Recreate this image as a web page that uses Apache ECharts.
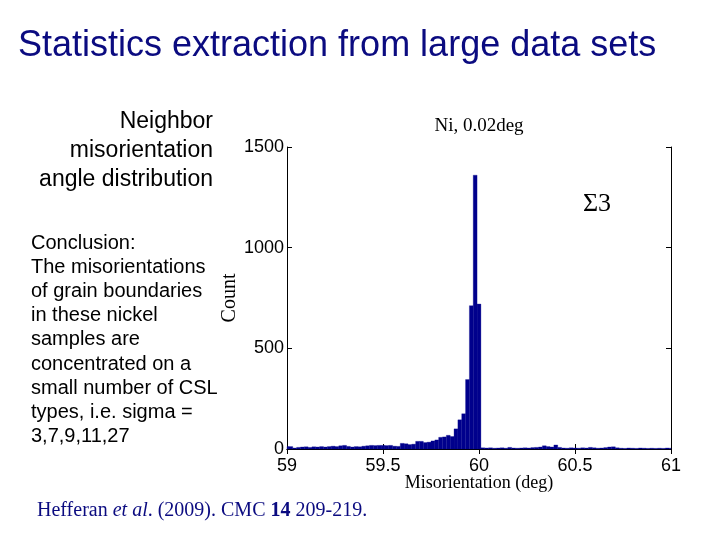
<!DOCTYPE html>
<html>
<head>
<meta charset="utf-8">
<script src="https://cdn.jsdelivr.net/npm/echarts@6/dist/echarts.min.js"></script>
<style>html,body{margin:0;padding:0;background:#fff;}#chart{width:720px;height:540px;}</style>
</head>
<body>
<div id="chart"></div>
<script>
// Bin centres (deg), 0.02 deg bins
const binCenters = [
  59.00,59.02,59.04,59.06,59.08,59.10,59.12,59.14,59.16,59.18,
  59.20,59.22,59.24,59.26,59.28,59.30,59.32,59.34,59.36,59.38,
  59.40,59.42,59.44,59.46,59.48,59.50,59.52,59.54,59.56,59.58,
  59.60,59.62,59.64,59.66,59.68,59.70,59.72,59.74,59.76,59.78,
  59.80,59.82,59.84,59.86,59.88,59.90,59.92,59.94,59.96,59.98,
  60.00,60.02,60.04,60.06,60.08,60.10,60.12,60.14,60.16,60.18,
  60.20,60.22,60.24,60.26,60.28,60.30,60.32,60.34,60.36,60.38,
  60.40,60.42,60.44,60.46,60.48,60.50,60.52,60.54,60.56,60.58,
  60.60,60.62,60.64,60.66,60.68,60.70,60.72,60.74,60.76,60.78,
  60.80,60.82,60.84,60.86,60.88,60.90,60.92,60.94,60.96,60.98,
  61.00
];
// Counts per bin
const counts = [
  12,12,5,8,10,11,8,11,10,12,
  10,12,14,12,16,18,13,10,12,11,
  14,16,18,17,18,18,17,18,14,13,
  28,26,22,24,38,38,32,34,40,45,
  58,60,68,62,100,145,175,345,712,1360,
  720,6,5,6,4,5,6,4,8,5,
  4,5,6,5,7,8,10,16,12,10,
  20,8,5,4,6,5,4,6,5,8,
  6,4,5,7,10,11,6,4,3,5,
  4,3,5,4,3,4,3,4,3,5,
  4
];
const binHalfWidth = 0.01;
const xTicks = [59, 59.5, 60, 60.5, 61];
const yTicks = [0, 500, 1000, 1500];

const pageTitle = 'Statistics extraction from large data sets';
const sideHeading = ['Neighbor', 'misorientation', 'angle distribution'];
const conclusionLines = ['Conclusion:', 'The misorientations', 'of grain boundaries', 'in these nickel',
  'samples are', 'concentrated on a', 'small number of CSL', 'types, i.e. sigma =', '3,7,9,11,27'];
const plotTitle = 'Ni, 0.02deg';
const annotation = 'Σ3';
const xName = 'Misorientation (deg)';
const yName = 'Count';

const barColor = '#00008c';
const navy = '#0b0b80';
const tickFont = {fontFamily: 'Liberation Sans', fontSize: 18, color: '#000'};

const data = binCenters.map((c, i) => [c, counts[i]]);

const chart = echarts.init(document.getElementById('chart'));
const axisCommon = {
  axisLine: {show: true, lineStyle: {color: '#000', width: 1}},
  axisTick: {show: true, inside: true, length: 5, lineStyle: {color: '#000'}},
  splitLine: {show: false}
};
chart.setOption({
  animation: false,
  backgroundColor: '#fff',
  grid: {left: 287, right: 49, top: 147, bottom: 91, show: false},
  xAxis: [
    Object.assign({type: 'value', min: 59, max: 61, interval: 0.5, position: 'bottom',
      name: xName, nameLocation: 'middle', nameGap: 25, nameMoveOverlap: false,
      nameTextStyle: {fontFamily: 'Liberation Serif', fontSize: 18, color: '#000'},
      axisLabel: Object.assign({margin: 8, formatter: v => xTicks.includes(v) ? String(v) : ''}, tickFont)}, axisCommon),
    Object.assign({type: 'value', min: 59, max: 61, interval: 0.5, position: 'top',
      axisLabel: {show: false}}, axisCommon)
  ],
  yAxis: [
    Object.assign({type: 'value', min: 0, max: 1500, interval: 500, position: 'left',
      name: yName, nameLocation: 'middle', nameGap: 47, nameRotate: 90, nameMoveOverlap: false,
      nameTextStyle: {fontFamily: 'Liberation Serif', fontSize: 20, color: '#000'},
      axisLabel: Object.assign({margin: 3, formatter: v => yTicks.includes(v) ? String(v) : ''}, tickFont)}, axisCommon),
    Object.assign({type: 'value', min: 0, max: 1500, interval: 500, position: 'right',
      axisLabel: {show: false}}, axisCommon)
  ],
  series: [{
    type: 'custom',
    xAxisIndex: 0, yAxisIndex: 0,
    data: data,
    renderItem: function (params, api) {
      const c = api.value(0), v = api.value(1);
      const p0 = api.coord([c - binHalfWidth, v]);
      const p1 = api.coord([c + binHalfWidth, 0]);
      const cs = params.coordSys;
      const rect = echarts.graphic.clipRectByRect(
        {x: p0[0], y: p0[1], width: p1[0] - p0[0], height: p1[1] - p0[1]},
        {x: cs.x, y: cs.y, width: cs.width, height: cs.height});
      return rect && {type: 'rect', shape: rect, style: {fill: barColor, stroke: barColor, lineWidth: 0.3}};
    },
    encode: {x: 0, y: 1}
  }],
  graphic: [
    {type: 'text', x: 18, y: 46, style: {text: pageTitle, fill: navy, font: '36px "Liberation Sans"',
      verticalAlign: 'middle'}},
    {type: 'text', x: 213, y: 107, style: {text: sideHeading.join('\n'), fill: '#000',
      font: '23px "Liberation Sans"', align: 'right', verticalAlign: 'top', lineHeight: 29}},
    {type: 'text', x: 31, y: 231, style: {text: conclusionLines.join('\n'), fill: '#000',
      font: '20px "Liberation Sans"', lineHeight: 24.2, verticalAlign: 'top'}},
    {type: 'text', x: 479, y: 126, style: {text: plotTitle, fill: '#000', font: '19px "Liberation Serif"',
      align: 'center', verticalAlign: 'middle'}},
    {type: 'text', x: 597, y: 204, style: {text: annotation, fill: '#000', font: '26px "Liberation Serif"',
      align: 'center', verticalAlign: 'middle'}},
    {type: 'text', x: 37, y: 511, style: {
      text: '{n|Hefferan }{i|et al}{n|. (2009). CMC }{b|14}{n| 209-219.}',
      verticalAlign: 'middle',
      rich: {
        n: {fill: navy, font: '20px "Liberation Serif"'},
        i: {fill: navy, font: 'italic 20px "Liberation Serif"'},
        b: {fill: navy, font: 'bold 20px "Liberation Serif"'}
      }}}
  ]
});
</script>
</body>
</html>
